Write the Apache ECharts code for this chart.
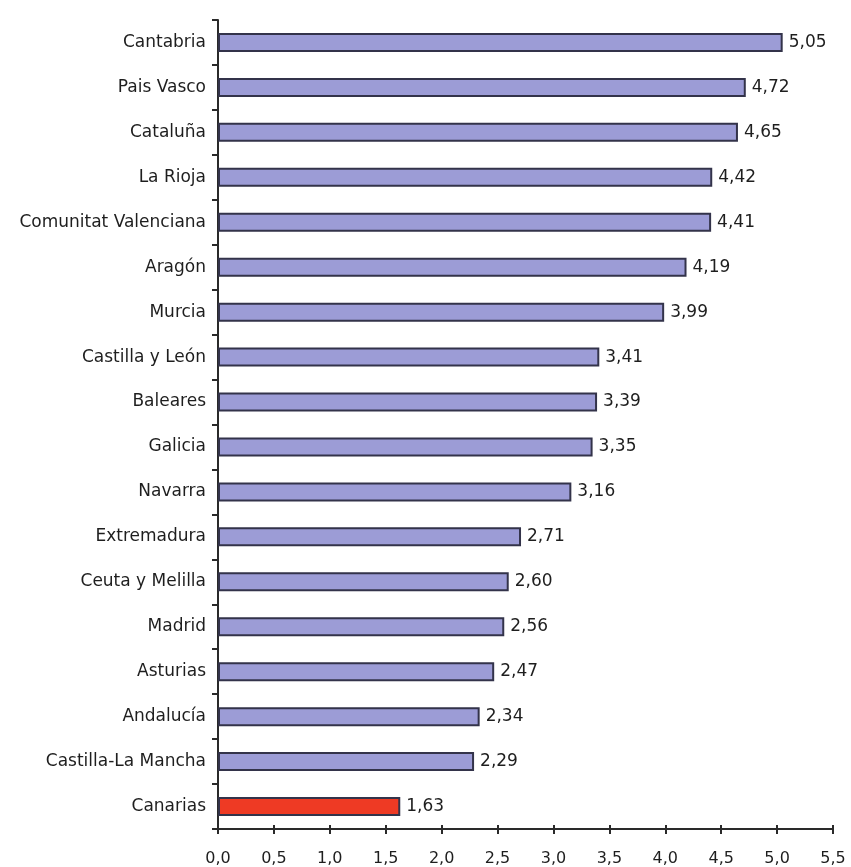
<!DOCTYPE html>
<html><head><meta charset="utf-8">
<script src="https://cdn.jsdelivr.net/npm/echarts@6/dist/echarts.min.js"></script>
<style>html,body{margin:0;padding:0;background:#fff}#c{width:851px;height:867px}</style>
</head><body><div id="c"></div>
<script>
const categories = ["Cantabria","Pais Vasco","Cataluña","La Rioja","Comunitat Valenciana","Aragón","Murcia","Castilla y León","Baleares","Galicia","Navarra","Extremadura","Ceuta y Melilla","Madrid","Asturias","Andalucía","Castilla-La Mancha","Canarias"];
const values = [5.05,4.72,4.65,4.42,4.41,4.19,3.99,3.41,3.39,3.35,3.16,2.71,2.60,2.56,2.47,2.34,2.29,1.63];
const highlight = "Canarias";
const xTicks = {min:0, max:5.5, interval:0.5};

const FONT = 'DejaVu Sans';
const fmt = (v, d) => v.toFixed(d).replace('.', ',');
const chart = echarts.init(document.getElementById('c'));
const xBase = {type:'value',min:xTicks.min,max:xTicks.max,interval:xTicks.interval,splitLine:{show:false}};
chart.setOption({
  animation:false,
  grid:{left:218,right:18,top:20,bottom:38,containLabel:false},
  xAxis:[
    Object.assign({}, xBase, {
      axisLine:{show:true,lineStyle:{color:'#2a2a2a',width:2}},
      axisTick:{show:true,length:5,lineStyle:{color:'#2a2a2a',width:2}},
      axisLabel:{formatter:v=>fmt(v,1),color:'#1e1e1e',fontSize:16,fontFamily:FONT,margin:22}}),
    Object.assign({}, xBase, {position:'bottom',
      axisLine:{show:false},
      axisTick:{show:true,inside:true,length:4,lineStyle:{color:'#2a2a2a',width:2}},
      axisLabel:{show:false}})
  ],
  yAxis:{type:'category',data:categories,inverse:true,
    axisLine:{show:true,lineStyle:{color:'#2a2a2a',width:2}},
    axisTick:{show:true,length:6,lineStyle:{color:'#2a2a2a',width:2}},
    axisLabel:{color:'#1e1e1e',fontSize:17,fontFamily:FONT,margin:12}},
  series:[{type:'bar',barWidth:19,
    data:categories.map((c,i)=>({value:values[i],itemStyle:{color:c===highlight?'#EE3A24':'#9C9CD6',borderColor:'#33334a',borderWidth:2}})),
    label:{show:true,position:'right',distance:6,color:'#1e1e1e',fontSize:17,fontFamily:FONT,formatter:p=>fmt(p.value,2)}}]
});
</script></body></html>
